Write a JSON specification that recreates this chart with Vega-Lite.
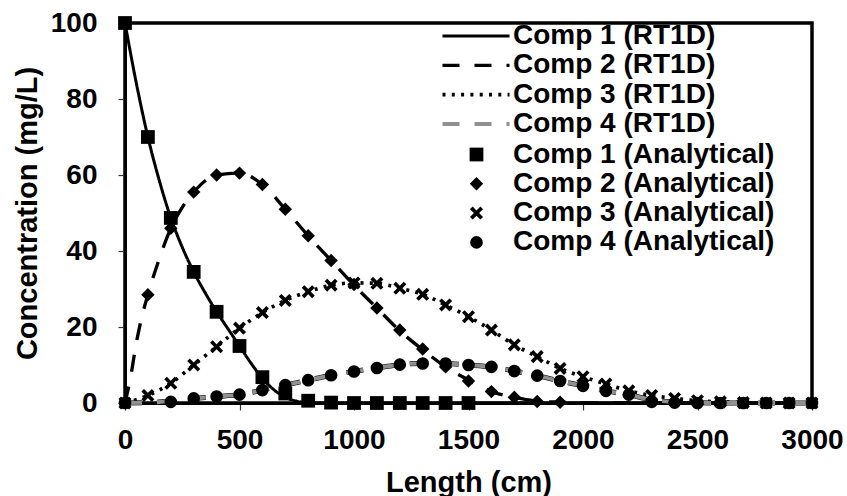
{
  "$schema": "https://vega.github.io/schema/vega-lite/v6.json",
  "width": 687,
  "height": 380,
  "autosize": {"type": "none"},
  "padding": {"left": 125, "top": 23, "right": 35, "bottom": 93},
  "background": "white",
  "config": {
    "view": {"stroke": "black", "strokeWidth": 3.5},
    "font": "Liberation Sans",
    "axis": {
      "grid": false,
      "labelFlush": false,
      "domainColor": "black",
      "domainWidth": 3,
      "tickColor": "#333333",
      "tickWidth": 1.2,
      "tickSize": 7,
      "labelFont": "Liberation Sans",
      "labelFontWeight": "bold",
      "labelFontSize": 28,
      "labelColor": "black",
      "titleFont": "Liberation Sans",
      "titleFontWeight": "bold",
      "titleFontSize": 29,
      "titleColor": "black"
    },
    "legend": {
      "labelFont": "Liberation Sans",
      "labelFontWeight": "bold",
      "labelFontSize": 28,
      "labelColor": "black",
      "labelLimit": 0,
      "padding": 0,
      "rowPadding": 1.3,
      "title": null
    }
  },
  "datasets": {
    "lines": [
      {"x": 0, "y": 100, "line": "Comp 1 (RT1D)"},
      {"x": 50, "y": 84, "line": "Comp 1 (RT1D)"},
      {"x": 100, "y": 70, "line": "Comp 1 (RT1D)"},
      {"x": 150, "y": 58.5, "line": "Comp 1 (RT1D)"},
      {"x": 200, "y": 48.7, "line": "Comp 1 (RT1D)"},
      {"x": 250, "y": 41, "line": "Comp 1 (RT1D)"},
      {"x": 300, "y": 34.5, "line": "Comp 1 (RT1D)"},
      {"x": 350, "y": 29, "line": "Comp 1 (RT1D)"},
      {"x": 400, "y": 24, "line": "Comp 1 (RT1D)"},
      {"x": 450, "y": 19.5, "line": "Comp 1 (RT1D)"},
      {"x": 500, "y": 15, "line": "Comp 1 (RT1D)"},
      {"x": 550, "y": 10.5, "line": "Comp 1 (RT1D)"},
      {"x": 600, "y": 6.5, "line": "Comp 1 (RT1D)"},
      {"x": 650, "y": 3.5, "line": "Comp 1 (RT1D)"},
      {"x": 700, "y": 1.5, "line": "Comp 1 (RT1D)"},
      {"x": 750, "y": 0.5, "line": "Comp 1 (RT1D)"},
      {"x": 800, "y": 0, "line": "Comp 1 (RT1D)"},
      {"x": 1500, "y": 0, "line": "Comp 1 (RT1D)"},
      {"x": 3000, "y": 0, "line": "Comp 1 (RT1D)"},
      {"x": 0, "y": 0, "line": "Comp 2 (RT1D)"},
      {"x": 25, "y": 7, "line": "Comp 2 (RT1D)"},
      {"x": 50, "y": 16, "line": "Comp 2 (RT1D)"},
      {"x": 75, "y": 23, "line": "Comp 2 (RT1D)"},
      {"x": 100, "y": 28.5, "line": "Comp 2 (RT1D)"},
      {"x": 150, "y": 38, "line": "Comp 2 (RT1D)"},
      {"x": 200, "y": 46, "line": "Comp 2 (RT1D)"},
      {"x": 250, "y": 51.5, "line": "Comp 2 (RT1D)"},
      {"x": 300, "y": 55.5, "line": "Comp 2 (RT1D)"},
      {"x": 400, "y": 60, "line": "Comp 2 (RT1D)"},
      {"x": 500, "y": 60.5, "line": "Comp 2 (RT1D)"},
      {"x": 600, "y": 57.5, "line": "Comp 2 (RT1D)"},
      {"x": 700, "y": 51, "line": "Comp 2 (RT1D)"},
      {"x": 800, "y": 44, "line": "Comp 2 (RT1D)"},
      {"x": 900, "y": 37.5, "line": "Comp 2 (RT1D)"},
      {"x": 1000, "y": 31, "line": "Comp 2 (RT1D)"},
      {"x": 1100, "y": 25, "line": "Comp 2 (RT1D)"},
      {"x": 1200, "y": 19, "line": "Comp 2 (RT1D)"},
      {"x": 1300, "y": 14, "line": "Comp 2 (RT1D)"},
      {"x": 1400, "y": 9.5, "line": "Comp 2 (RT1D)"},
      {"x": 1500, "y": 6, "line": "Comp 2 (RT1D)"},
      {"x": 1600, "y": 3, "line": "Comp 2 (RT1D)"},
      {"x": 1700, "y": 1.5, "line": "Comp 2 (RT1D)"},
      {"x": 1800, "y": 0.5, "line": "Comp 2 (RT1D)"},
      {"x": 1900, "y": 0.2, "line": "Comp 2 (RT1D)"},
      {"x": 2000, "y": 0, "line": "Comp 2 (RT1D)"},
      {"x": 3000, "y": 0, "line": "Comp 2 (RT1D)"},
      {"x": 0, "y": 0, "line": "Comp 3 (RT1D)"},
      {"x": 100, "y": 2, "line": "Comp 3 (RT1D)"},
      {"x": 200, "y": 5.2, "line": "Comp 3 (RT1D)"},
      {"x": 300, "y": 10, "line": "Comp 3 (RT1D)"},
      {"x": 400, "y": 14.8, "line": "Comp 3 (RT1D)"},
      {"x": 500, "y": 19.7, "line": "Comp 3 (RT1D)"},
      {"x": 600, "y": 23.8, "line": "Comp 3 (RT1D)"},
      {"x": 700, "y": 27, "line": "Comp 3 (RT1D)"},
      {"x": 800, "y": 29.3, "line": "Comp 3 (RT1D)"},
      {"x": 900, "y": 31, "line": "Comp 3 (RT1D)"},
      {"x": 1000, "y": 31.6, "line": "Comp 3 (RT1D)"},
      {"x": 1100, "y": 31.5, "line": "Comp 3 (RT1D)"},
      {"x": 1200, "y": 30.2, "line": "Comp 3 (RT1D)"},
      {"x": 1300, "y": 28.6, "line": "Comp 3 (RT1D)"},
      {"x": 1400, "y": 25.8, "line": "Comp 3 (RT1D)"},
      {"x": 1500, "y": 22.7, "line": "Comp 3 (RT1D)"},
      {"x": 1600, "y": 19.2, "line": "Comp 3 (RT1D)"},
      {"x": 1700, "y": 15.3, "line": "Comp 3 (RT1D)"},
      {"x": 1800, "y": 12.2, "line": "Comp 3 (RT1D)"},
      {"x": 1900, "y": 9.1, "line": "Comp 3 (RT1D)"},
      {"x": 2000, "y": 6.9, "line": "Comp 3 (RT1D)"},
      {"x": 2100, "y": 5, "line": "Comp 3 (RT1D)"},
      {"x": 2200, "y": 3.2, "line": "Comp 3 (RT1D)"},
      {"x": 2300, "y": 2, "line": "Comp 3 (RT1D)"},
      {"x": 2400, "y": 1.2, "line": "Comp 3 (RT1D)"},
      {"x": 2500, "y": 0.6, "line": "Comp 3 (RT1D)"},
      {"x": 2600, "y": 0.3, "line": "Comp 3 (RT1D)"},
      {"x": 2700, "y": 0.1, "line": "Comp 3 (RT1D)"},
      {"x": 2800, "y": 0, "line": "Comp 3 (RT1D)"},
      {"x": 3000, "y": 0, "line": "Comp 3 (RT1D)"},
      {"x": 0, "y": 0, "line": "Comp 4 (RT1D)"},
      {"x": 100, "y": 0.1, "line": "Comp 4 (RT1D)"},
      {"x": 200, "y": 0.5, "line": "Comp 4 (RT1D)"},
      {"x": 300, "y": 1.2, "line": "Comp 4 (RT1D)"},
      {"x": 400, "y": 1.7, "line": "Comp 4 (RT1D)"},
      {"x": 500, "y": 2.2, "line": "Comp 4 (RT1D)"},
      {"x": 600, "y": 3.4, "line": "Comp 4 (RT1D)"},
      {"x": 700, "y": 4.7, "line": "Comp 4 (RT1D)"},
      {"x": 800, "y": 6, "line": "Comp 4 (RT1D)"},
      {"x": 900, "y": 7.3, "line": "Comp 4 (RT1D)"},
      {"x": 1000, "y": 8.3, "line": "Comp 4 (RT1D)"},
      {"x": 1100, "y": 9.2, "line": "Comp 4 (RT1D)"},
      {"x": 1200, "y": 10.1, "line": "Comp 4 (RT1D)"},
      {"x": 1300, "y": 10.4, "line": "Comp 4 (RT1D)"},
      {"x": 1400, "y": 10.4, "line": "Comp 4 (RT1D)"},
      {"x": 1500, "y": 10, "line": "Comp 4 (RT1D)"},
      {"x": 1600, "y": 9.5, "line": "Comp 4 (RT1D)"},
      {"x": 1700, "y": 8.4, "line": "Comp 4 (RT1D)"},
      {"x": 1800, "y": 7.2, "line": "Comp 4 (RT1D)"},
      {"x": 1900, "y": 5.8, "line": "Comp 4 (RT1D)"},
      {"x": 2000, "y": 4.5, "line": "Comp 4 (RT1D)"},
      {"x": 2100, "y": 3.2, "line": "Comp 4 (RT1D)"},
      {"x": 2200, "y": 2.2, "line": "Comp 4 (RT1D)"},
      {"x": 2300, "y": 0.8, "line": "Comp 4 (RT1D)"},
      {"x": 2400, "y": 0.3, "line": "Comp 4 (RT1D)"},
      {"x": 2500, "y": 0.1, "line": "Comp 4 (RT1D)"},
      {"x": 2600, "y": 0, "line": "Comp 4 (RT1D)"},
      {"x": 3000, "y": 0, "line": "Comp 4 (RT1D)"}
    ],
    "points": [
      {"x": 0, "y": 100, "pt": "Comp 1 (Analytical)"},
      {"x": 100, "y": 70, "pt": "Comp 1 (Analytical)"},
      {"x": 200, "y": 48.7, "pt": "Comp 1 (Analytical)"},
      {"x": 300, "y": 34.5, "pt": "Comp 1 (Analytical)"},
      {"x": 400, "y": 24, "pt": "Comp 1 (Analytical)"},
      {"x": 500, "y": 15, "pt": "Comp 1 (Analytical)"},
      {"x": 600, "y": 6.8, "pt": "Comp 1 (Analytical)"},
      {"x": 700, "y": 2.5, "pt": "Comp 1 (Analytical)"},
      {"x": 800, "y": 0.6, "pt": "Comp 1 (Analytical)"},
      {"x": 900, "y": 0.1, "pt": "Comp 1 (Analytical)"},
      {"x": 1000, "y": 0, "pt": "Comp 1 (Analytical)"},
      {"x": 1100, "y": 0, "pt": "Comp 1 (Analytical)"},
      {"x": 1200, "y": 0, "pt": "Comp 1 (Analytical)"},
      {"x": 1300, "y": 0, "pt": "Comp 1 (Analytical)"},
      {"x": 1400, "y": 0, "pt": "Comp 1 (Analytical)"},
      {"x": 1500, "y": 0, "pt": "Comp 1 (Analytical)"},
      {"x": 100, "y": 28.5, "pt": "Comp 2 (Analytical)"},
      {"x": 200, "y": 46, "pt": "Comp 2 (Analytical)"},
      {"x": 300, "y": 55.5, "pt": "Comp 2 (Analytical)"},
      {"x": 400, "y": 60, "pt": "Comp 2 (Analytical)"},
      {"x": 500, "y": 60.5, "pt": "Comp 2 (Analytical)"},
      {"x": 600, "y": 57.5, "pt": "Comp 2 (Analytical)"},
      {"x": 700, "y": 51, "pt": "Comp 2 (Analytical)"},
      {"x": 800, "y": 44, "pt": "Comp 2 (Analytical)"},
      {"x": 900, "y": 37.5, "pt": "Comp 2 (Analytical)"},
      {"x": 1000, "y": 31.2, "pt": "Comp 2 (Analytical)"},
      {"x": 1100, "y": 25, "pt": "Comp 2 (Analytical)"},
      {"x": 1200, "y": 19.2, "pt": "Comp 2 (Analytical)"},
      {"x": 1300, "y": 14.2, "pt": "Comp 2 (Analytical)"},
      {"x": 1400, "y": 9.5, "pt": "Comp 2 (Analytical)"},
      {"x": 1500, "y": 5.8, "pt": "Comp 2 (Analytical)"},
      {"x": 1600, "y": 3, "pt": "Comp 2 (Analytical)"},
      {"x": 1700, "y": 1.5, "pt": "Comp 2 (Analytical)"},
      {"x": 1800, "y": 0.4, "pt": "Comp 2 (Analytical)"},
      {"x": 1900, "y": 0.2, "pt": "Comp 2 (Analytical)"},
      {"x": 0, "y": 0, "pt": "Comp 3 (Analytical)"},
      {"x": 100, "y": 2, "pt": "Comp 3 (Analytical)"},
      {"x": 200, "y": 5.2, "pt": "Comp 3 (Analytical)"},
      {"x": 300, "y": 10, "pt": "Comp 3 (Analytical)"},
      {"x": 400, "y": 14.8, "pt": "Comp 3 (Analytical)"},
      {"x": 500, "y": 19.7, "pt": "Comp 3 (Analytical)"},
      {"x": 600, "y": 23.8, "pt": "Comp 3 (Analytical)"},
      {"x": 700, "y": 27, "pt": "Comp 3 (Analytical)"},
      {"x": 800, "y": 29.3, "pt": "Comp 3 (Analytical)"},
      {"x": 900, "y": 31, "pt": "Comp 3 (Analytical)"},
      {"x": 1000, "y": 31.6, "pt": "Comp 3 (Analytical)"},
      {"x": 1100, "y": 31.5, "pt": "Comp 3 (Analytical)"},
      {"x": 1200, "y": 30.2, "pt": "Comp 3 (Analytical)"},
      {"x": 1300, "y": 28.6, "pt": "Comp 3 (Analytical)"},
      {"x": 1400, "y": 25.8, "pt": "Comp 3 (Analytical)"},
      {"x": 1500, "y": 22.7, "pt": "Comp 3 (Analytical)"},
      {"x": 1600, "y": 19.2, "pt": "Comp 3 (Analytical)"},
      {"x": 1700, "y": 15.3, "pt": "Comp 3 (Analytical)"},
      {"x": 1800, "y": 12.2, "pt": "Comp 3 (Analytical)"},
      {"x": 1900, "y": 9.1, "pt": "Comp 3 (Analytical)"},
      {"x": 2000, "y": 6.9, "pt": "Comp 3 (Analytical)"},
      {"x": 2100, "y": 5, "pt": "Comp 3 (Analytical)"},
      {"x": 2200, "y": 3.2, "pt": "Comp 3 (Analytical)"},
      {"x": 2300, "y": 2, "pt": "Comp 3 (Analytical)"},
      {"x": 2400, "y": 1.2, "pt": "Comp 3 (Analytical)"},
      {"x": 2500, "y": 0.6, "pt": "Comp 3 (Analytical)"},
      {"x": 2600, "y": 0.3, "pt": "Comp 3 (Analytical)"},
      {"x": 2700, "y": 0.1, "pt": "Comp 3 (Analytical)"},
      {"x": 2800, "y": 0, "pt": "Comp 3 (Analytical)"},
      {"x": 2900, "y": 0, "pt": "Comp 3 (Analytical)"},
      {"x": 3000, "y": 0, "pt": "Comp 3 (Analytical)"},
      {"x": 0, "y": 0, "pt": "Comp 4 (Analytical)"},
      {"x": 200, "y": 0.3, "pt": "Comp 4 (Analytical)"},
      {"x": 300, "y": 1.2, "pt": "Comp 4 (Analytical)"},
      {"x": 400, "y": 1.7, "pt": "Comp 4 (Analytical)"},
      {"x": 500, "y": 2.2, "pt": "Comp 4 (Analytical)"},
      {"x": 600, "y": 3.4, "pt": "Comp 4 (Analytical)"},
      {"x": 700, "y": 4.7, "pt": "Comp 4 (Analytical)"},
      {"x": 800, "y": 6, "pt": "Comp 4 (Analytical)"},
      {"x": 900, "y": 7.3, "pt": "Comp 4 (Analytical)"},
      {"x": 1000, "y": 8.3, "pt": "Comp 4 (Analytical)"},
      {"x": 1100, "y": 9.2, "pt": "Comp 4 (Analytical)"},
      {"x": 1200, "y": 10.1, "pt": "Comp 4 (Analytical)"},
      {"x": 1300, "y": 10.4, "pt": "Comp 4 (Analytical)"},
      {"x": 1400, "y": 10.4, "pt": "Comp 4 (Analytical)"},
      {"x": 1500, "y": 10, "pt": "Comp 4 (Analytical)"},
      {"x": 1600, "y": 9.5, "pt": "Comp 4 (Analytical)"},
      {"x": 1700, "y": 8.4, "pt": "Comp 4 (Analytical)"},
      {"x": 1800, "y": 7.2, "pt": "Comp 4 (Analytical)"},
      {"x": 1900, "y": 5.8, "pt": "Comp 4 (Analytical)"},
      {"x": 2000, "y": 4.5, "pt": "Comp 4 (Analytical)"},
      {"x": 2100, "y": 3.2, "pt": "Comp 4 (Analytical)"},
      {"x": 2200, "y": 2.2, "pt": "Comp 4 (Analytical)"},
      {"x": 2300, "y": 0.3, "pt": "Comp 4 (Analytical)"},
      {"x": 2400, "y": 0.1, "pt": "Comp 4 (Analytical)"},
      {"x": 2500, "y": 0, "pt": "Comp 4 (Analytical)"},
      {"x": 2600, "y": 0, "pt": "Comp 4 (Analytical)"},
      {"x": 2700, "y": 0, "pt": "Comp 4 (Analytical)"},
      {"x": 2800, "y": 0, "pt": "Comp 4 (Analytical)"},
      {"x": 2900, "y": 0, "pt": "Comp 4 (Analytical)"},
      {"x": 3000, "y": 0, "pt": "Comp 4 (Analytical)"}
    ]
  },
  "encoding": {
    "x": {
      "field": "x",
      "type": "quantitative",
      "scale": {"domain": [0, 3000], "nice": false},
      "axis": {"values": [0, 500, 1000, 1500, 2000, 2500, 3000], "format": "d", "title": "Length (cm)", "labelPadding": 16, "titlePadding": 14}
    },
    "y": {
      "field": "y",
      "type": "quantitative",
      "scale": {"domain": [0, 100], "nice": false},
      "axis": {"values": [0, 20, 40, 60, 80, 100], "title": "Concentration (mg/L)", "labelPadding": 21, "titlePadding": 8}
    }
  },
  "layer": [
    {
      "data": {"name": "lines"},
      "transform": [{"filter": "datum.line === 'Comp 4 (RT1D)'"}],
      "mark": {"type": "line", "color": "black", "strokeWidth": 5, "strokeDash": [17, 15], "interpolate": "monotone"}
    },
    {
      "data": {"name": "lines"},
      "mark": {"type": "line", "interpolate": "monotone"},
      "encoding": {
        "color": {
          "field": "line",
          "type": "nominal",
          "scale": {"domain": ["Comp 1 (RT1D)", "Comp 2 (RT1D)", "Comp 3 (RT1D)", "Comp 4 (RT1D)"], "range": ["#000000", "#000000", "#000000", "#909090"]},
          "legend": {"orient": "none", "legendX": 337, "legendY": -1, "symbolType": "M-3.35,0H3.35", "symbolSize": 400, "labelOffset": 23}
        },
        "strokeDash": {
          "field": "line",
          "type": "nominal",
          "scale": {"domain": ["Comp 1 (RT1D)", "Comp 2 (RT1D)", "Comp 3 (RT1D)", "Comp 4 (RT1D)"], "range": [[1, 0], [17, 15], [3, 6.3], [17, 15]]}
        },
        "strokeWidth": {
          "field": "line",
          "type": "nominal",
          "scale": {"domain": ["Comp 1 (RT1D)", "Comp 2 (RT1D)", "Comp 3 (RT1D)", "Comp 4 (RT1D)"], "range": [3, 4, 3, 2.5]}
        }
      }
    },
    {
      "data": {"name": "points"},
      "mark": {"type": "point", "filled": true, "color": "black", "opacity": 1},
      "encoding": {
        "shape": {
          "field": "pt",
          "type": "nominal",
          "scale": {"domain": ["Comp 1 (Analytical)", "Comp 2 (Analytical)", "Comp 3 (Analytical)", "Comp 4 (Analytical)"], "range": ["square", "diamond", "M-1,-0.6L-0.6,-1L0,-0.4L0.6,-1L1,-0.6L0.4,0L1,0.6L0.6,1L0,0.4L-0.6,1L-1,0.6L-0.4,0Z", "circle"]},
          "legend": {"orient": "none", "legendX": 337.5, "legendY": 117.5, "labelOffset": 22.5}
        },
        "size": {
          "field": "pt",
          "type": "nominal",
          "scale": {"domain": ["Comp 1 (Analytical)", "Comp 2 (Analytical)", "Comp 3 (Analytical)", "Comp 4 (Analytical)"], "range": [190, 160, 170, 150]}
        }
      }
    }
  ]
}
